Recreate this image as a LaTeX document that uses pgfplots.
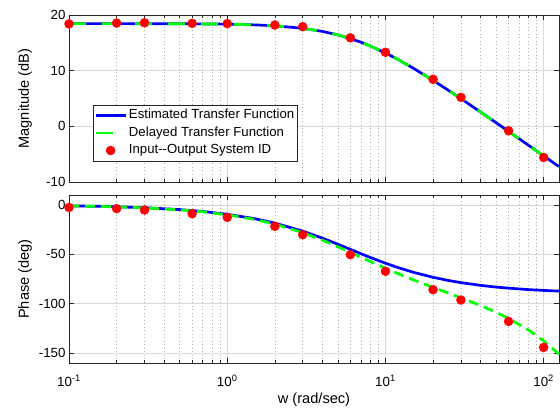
\documentclass[border=0pt]{standalone}
\usepackage{fontspec}
\setmainfont{Liberation Sans}
\usepackage{pgfplots}
\pgfplotsset{compat=1.18}
\definecolor{mblue}{rgb}{0,0,1}
\definecolor{mgreen}{rgb}{0,1,0}
\definecolor{mred}{rgb}{1,0,0}
\newcommand\tickfont{\fontsize{13.3}{16}\selectfont}
\newcommand\labfont{\fontsize{14.6}{17}\selectfont}
\pgfplotsset{
  lineleg/.style={legend image code/.code={\draw[##1] (0pt,0pt) -- (30pt,0pt);}},
  dotleg/.style={legend image code/.code={\draw[##1] plot coordinates {(15pt,0pt)};}}
}
\begin{document}
\begin{tikzpicture}[x=1pt,y=1pt]
\path[use as bounding box] (0,0) rectangle (560,409);
\begin{axis}[scale only axis, width=490pt, height=167pt, xmode=log, xmin=0.1, xmax=125,
  at={(69pt,227pt)}, anchor=south west,
  xtick={0.1,1,10,100},
  minor xtick={0.2,0.3,0.4,0.5,0.6,0.7,0.8,0.9,2,3,4,5,6,7,8,9,20,30,40,50,60,70,80,90},
  xmajorgrids, xminorgrids, ymajorgrids,
  major grid style={color=black!15, line width=0.5pt},
  minor grid style={color=black!30, line width=0.5pt, dash pattern=on 1pt off 2.5pt},
  tick align=inside, major tick length=5pt, minor tick length=3pt,
  tick style={black!85, line width=0.5pt},
  axis line style={black!85, line width=0.5pt},
  ticklabel style={font=\tickfont},
  ylabel style={font=\labfont, at={(axis description cs:-0.0898,0.5)}, anchor=center},
  ymin=-10, ymax=20, ytick={-10,0,10,20}, yticklabels={-10,0,10,20},
  xticklabels={}, ylabel={Magnitude (dB)},
  legend style={at={(axis description cs:0.049,0.461)}, anchor=north west,
    draw=black!85, line width=0.5pt, fill=white, font=\fontsize{13.2}{15}\selectfont,
    cells={anchor=west}, inner xsep=1pt, inner ysep=1.5pt, row sep=0pt,
    nodes={inner ysep=2.5pt, inner xsep=2pt, text height=9.5pt, text depth=3pt}}]
\addplot[mblue, line width=2.7pt, lineleg] coordinates {
(0.1,18.45)(0.15,18.45)(0.2,18.45)(0.3,18.44)(0.5,18.42)(0.7,18.40)(1,18.35)(1.5,18.22)
(2,18.06)(3,17.61)(4,17.05)(5,16.43)(6,15.77)(7,15.11)(8,14.45)(10,13.18)(12,12.01)
(15,10.44)(20,8.25)(25,6.47)(30,4.97)(40,2.55)(50,0.66)(60,-0.91)(80,-3.38)(100,-5.31)(125,-7.24)};
\addlegendentry{Estimated Transfer Function}
\addplot[mgreen, line width=2.7pt, dash pattern=on 17pt off 16pt, lineleg] coordinates {
(0.1,18.45)(0.15,18.45)(0.2,18.45)(0.3,18.44)(0.5,18.42)(0.7,18.40)(1,18.35)(1.5,18.22)
(2,18.06)(3,17.61)(4,17.05)(5,16.43)(6,15.77)(7,15.11)(8,14.45)(10,13.18)(12,12.01)
(15,10.44)(20,8.25)(25,6.47)(30,4.97)(40,2.55)(50,0.66)(60,-0.91)(80,-3.38)(100,-5.31)(125,-7.24)};
\addlegendentry{Delayed Transfer Function}
\addplot[only marks, mark=*, mark size=4.5pt, color=mred, fill=mred, dotleg] coordinates {
(0.1,18.4)(0.2,18.55)(0.3,18.6)(0.6,18.5)(1,18.45)(2,18.2)(3,17.9)(6,15.9)(10,13.3)
(20,8.45)(30,5.2)(60,-0.8)(100,-5.6)};
\addlegendentry{Input-{}-Output System ID}
\end{axis}
\begin{axis}[scale only axis, width=490pt, height=168pt, xmode=log, xmin=0.1, xmax=125,
  at={(69pt,46pt)}, anchor=south west,
  xtick={0.1,1,10,100},
  minor xtick={0.2,0.3,0.4,0.5,0.6,0.7,0.8,0.9,2,3,4,5,6,7,8,9,20,30,40,50,60,70,80,90},
  xmajorgrids, xminorgrids, ymajorgrids,
  major grid style={color=black!15, line width=0.5pt},
  minor grid style={color=black!30, line width=0.5pt, dash pattern=on 1pt off 2.5pt},
  tick align=inside, major tick length=5pt, minor tick length=3pt,
  tick style={black!85, line width=0.5pt},
  axis line style={black!85, line width=0.5pt},
  ticklabel style={font=\tickfont},
  ylabel style={font=\labfont, at={(axis description cs:-0.0898,0.5)}, anchor=center},
  ymin=-160, ymax=10, ytick={-150,-100,-50,0}, yticklabels={-150,-100,-50,0},
  xticklabels={10\textsuperscript{-1},10\textsuperscript{0},10\textsuperscript{1},10\textsuperscript{2}},
  xticklabel style={anchor=base, yshift=-24pt},
  ylabel={Phase (deg)}, xlabel={w (rad/sec)},
  xlabel style={font=\labfont, at={(axis description cs:0.5,-0.22)}, anchor=center}]
\addplot[mblue, line width=2.7pt] coordinates {
(0.1,-0.96)(0.15,-1.43)(0.2,-1.91)(0.3,-2.86)(0.5,-4.76)(0.7,-6.65)(1,-9.46)(1.5,-14.04)
(2,-18.43)(3,-26.57)(4,-33.69)(5,-39.81)(6,-45.00)(7,-49.40)(8,-53.13)(10,-59.04)(12,-63.43)
(15,-68.20)(20,-73.30)(25,-76.50)(30,-78.69)(40,-81.47)(50,-83.16)(60,-84.29)(80,-85.71)(100,-86.57)(125,-87.25)};
\addplot[mgreen, line width=2.7pt, dash pattern=on 10pt off 6pt] coordinates {
(0.1,-1.01)(0.15,-1.51)(0.2,-2.01)(0.3,-3.01)(0.5,-5.02)(0.7,-7.01)(1,-9.97)(1.5,-14.80)
(2,-19.45)(3,-28.10)(4,-35.73)(5,-42.36)(6,-48.06)(7,-52.97)(8,-57.21)(10,-64.14)(12,-69.55)
(15,-75.85)(20,-83.50)(25,-89.25)(30,-93.99)(40,-101.87)(50,-108.66)(60,-114.89)(80,-126.51)(100,-137.57)(125,-151.0)};
\addplot[only marks, mark=*, mark size=4.5pt, color=mred, fill=mred] coordinates {
(0.1,-2.6)(0.2,-3.8)(0.3,-5.2)(0.6,-8.9)(1,-12.6)(2,-21.7)(3,-30.2)(6,-50.4)(10,-67.2)
(20,-85.8)(30,-96.3)(60,-117.9)(100,-144.2)};
\end{axis}
\end{tikzpicture}
\end{document}
